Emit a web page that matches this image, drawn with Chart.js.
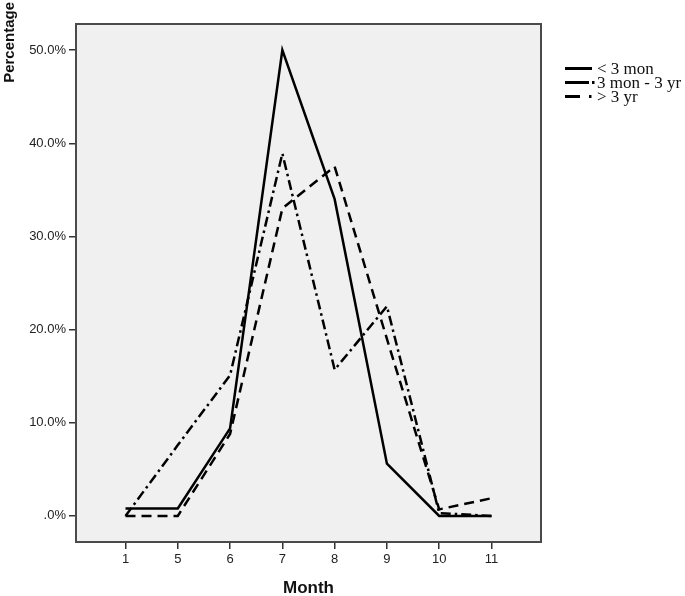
<!DOCTYPE html>
<html>
<head>
<meta charset="utf-8">
<script src="https://cdn.jsdelivr.net/npm/chart.js@4.4.1/dist/chart.umd.min.js"></script>
<style>
  html, body { margin: 0; padding: 0; background: #fff; }
  #wrap { width: 685px; height: 596px; }
</style>
</head>
<body>
<div id="wrap"><canvas id="monthChart" width="685" height="596"></canvas></div>
<script>
const months = ['1', '5', '6', '7', '8', '9', '10', '11'];
const under3mon = [0.8, 0.8, 9.4, 50.0, 34.0, 5.6, 0, 0];
const mon3to3yr = [0, 7.6, 15.1, 38.9, 15.7, 22.5, 0.3, 0];
const over3yr = [0, 0, 8.8, 33.0, 37.5, 19.0, 0.7, 1.9];
const yTicks = [0, 10, 20, 30, 40, 50];
const yTickLabels = ['.0%', '10.0%', '20.0%', '30.0%', '40.0%', '50.0%'];
const seriesNames = ['< 3 mon', '3 mon - 3 yr', '> 3 yr'];

// dash patterns: chart lines and the little legend samples
const lineDash = [[], [10, 4, 2.5, 4], [10, 6]];
const legendDash = [[], [24, 3, 2.5, 20], [15, 9, 2.5, 20]];

const toPoints = arr => arr.map((v, i) => ({ x: i, y: v }));

const ctx = document.getElementById('monthChart');

const MonthChart = new Chart(ctx, {
  type: 'line',
  data: {
    datasets: [under3mon, mon3to3yr, over3yr].map((arr, i) => ({
      label: seriesNames[i],
      data: toPoints(arr),
      borderColor: '#000',
      borderWidth: 2.5,
      borderDash: lineDash[i],
      pointRadius: 0,
      tension: 0,
      fill: false
    }))
  },
  plugins: [{
    id: 'spssLook',
    beforeDraw: (chart) => {
      const { ctx, chartArea: a } = chart;
      ctx.save();
      ctx.fillStyle = '#f0f0f0';
      ctx.fillRect(a.left, a.top, a.right - a.left, a.bottom - a.top);
      ctx.restore();
    },
    afterDraw: (chart) => {
      const { ctx, chartArea: a } = chart;
      ctx.save();
      // frame round the plot
      ctx.strokeStyle = '#4a4a4a';
      ctx.lineWidth = 2;
      ctx.strokeRect(a.left, a.top, a.right - a.left, a.bottom - a.top);

      // y axis title, reading upwards
      ctx.save();
      ctx.translate(10, 2);
      ctx.rotate(-Math.PI / 2);
      ctx.font = 'bold 15px "Liberation Sans", Arial, sans-serif';
      ctx.fillStyle = '#111';
      ctx.textAlign = 'right';
      ctx.textBaseline = 'middle';
      ctx.fillText('Percentage', 0, 0);
      ctx.restore();

      // legend
      const rows = [68.5, 82.5, 96.5];
      ctx.font = '17px "Liberation Serif", "Times New Roman", serif';
      ctx.textBaseline = 'middle';
      ctx.textAlign = 'left';
      seriesNames.forEach((name, i) => {
        ctx.strokeStyle = '#000';
        ctx.lineWidth = 3;
        ctx.setLineDash(legendDash[i]);
        ctx.beginPath();
        ctx.moveTo(565, rows[i]);
        ctx.lineTo(i === 0 ? 592 : 595, rows[i]);
        ctx.stroke();
        ctx.setLineDash([]);
        ctx.fillStyle = '#111';
        ctx.fillText(name, 597, rows[i] + 1);
      });
      ctx.restore();
    }
  }],
  options: {
    responsive: false,
    devicePixelRatio: 1,
    animation: false,
    layout: {
      padding: { top: 24, right: 144, left: 0, bottom: 0 }
    },
    plugins: {
      legend: { display: false },
      tooltip: { enabled: false }
    },
    scales: {
      x: {
        type: 'linear',
        min: -0.947,
        max: 7.947,
        afterBuildTicks: (s) => { s.ticks = months.map((m, i) => ({ value: i })); },
        afterFit: (s) => { s.height = 54; },
        ticks: {
          callback: (v) => months[v],
          color: '#222',
          font: { family: '"Liberation Sans", Arial, sans-serif', size: 13 },
          padding: 3,
          maxRotation: 0
        },
        grid: {
          drawOnChartArea: false,
          drawTicks: true,
          tickLength: 7,
          color: '#333',
          lineWidth: 1.5
        },
        border: { display: true, color: '#4a4a4a', width: 2 },
        title: {
          display: true,
          text: 'Month',
          color: '#111',
          font: { family: '"Liberation Sans", Arial, sans-serif', size: 17, weight: 'bold' },
          padding: { top: 8, bottom: -3 }
        }
      },
      y: {
        type: 'linear',
        min: -2.8,
        max: 52.8,
        afterBuildTicks: (s) => { s.ticks = yTicks.map(v => ({ value: v })); },
        afterFit: (s) => { s.width = 76; },
        ticks: {
          callback: (v) => yTickLabels[yTicks.indexOf(v)],
          color: '#222',
          font: { family: '"Liberation Sans", Arial, sans-serif', size: 13 },
          padding: 3
        },
        grid: {
          drawOnChartArea: false,
          drawTicks: true,
          tickLength: 7,
          color: '#333',
          lineWidth: 1.5
        },
        border: { display: true, color: '#4a4a4a', width: 2 }
      }
    }
  }
});
</script>
</body>
</html>
